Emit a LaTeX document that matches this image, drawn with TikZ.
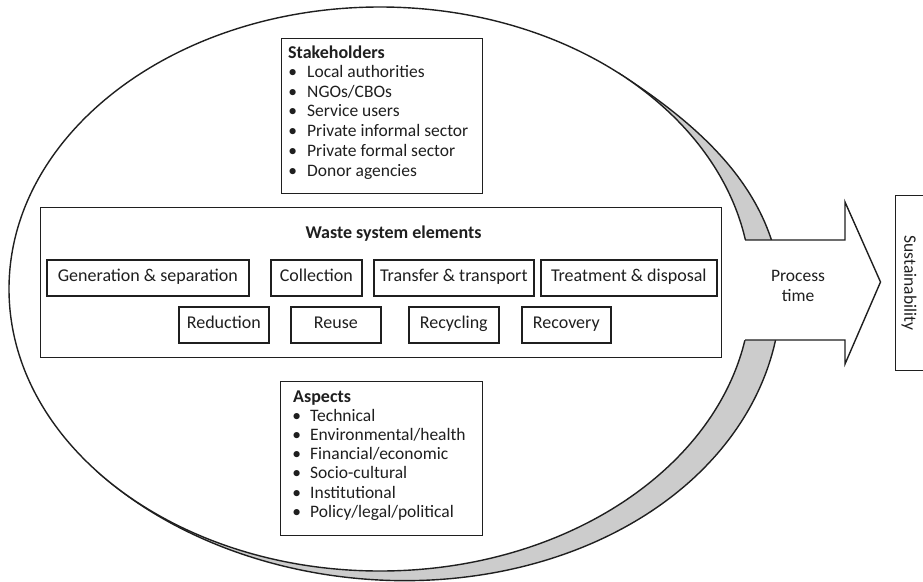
\documentclass[tikz,border=0pt]{standalone}
\usepackage{fontspec}
\setmainfont{Carlito}
\definecolor{ink}{gray}{0.12}
\definecolor{band}{gray}{0.80}
\begin{document}
\begin{tikzpicture}[x=1pt,y=-1pt,
  txt/.style={text=ink, font=\fontsize{17.5}{19.8}\selectfont},
  head/.style={text=ink, font=\fontsize{18}{20}\selectfont\bfseries},
  frame/.style={draw=ink, line width=1.2pt, inner sep=0pt, anchor=north west},
  elem/.style={frame, line width=1.6pt, text=ink,
    font=\fontsize{18}{20}\selectfont, text height=11pt, text depth=3.5pt},
  item/.style={txt, anchor=base west, inner sep=0pt},
  outline/.style={draw=ink, line width=1.4pt},
  declare function={
    % oval: centre (380,289), radii 371 x 282; t is the parametric angle
    ox(\t)=380+371*cos(\t);
    oy(\t)=289+282*sin(\t);
    nn(\t)=sqrt((0.76*cos(\t))^2+(sin(\t))^2);
    % width of the shaded rim, rising then fading around the right side
    rimA(\t)=30*(sin(90*(\t+50)/55))^2;
    rimB(\t)=30*(cos(90*(\t-5)/135))^2;
  },
]
\useasboundingbox (0,0) rectangle (923,581);

% shaded rim along the lower right of the oval
\fill[band]
  plot[domain=-50:5, samples=60, smooth]
    ({ox(\x)+rimA(\x)*0.76*cos(\x)/nn(\x)}, {oy(\x)+rimA(\x)*sin(\x)/nn(\x)})
  -- plot[domain=5:140, samples=120, smooth]
    ({ox(\x)+rimB(\x)*0.76*cos(\x)/nn(\x)}, {oy(\x)+rimB(\x)*sin(\x)/nn(\x)})
  -- plot[domain=140:-50, samples=100, smooth] ({ox(\x)}, {oy(\x)}) -- cycle;
\draw[outline]
  plot[domain=-50:5, samples=60, smooth]
    ({ox(\x)+rimA(\x)*0.76*cos(\x)/nn(\x)}, {oy(\x)+rimA(\x)*sin(\x)/nn(\x)})
  -- plot[domain=5:140, samples=120, smooth]
    ({ox(\x)+rimB(\x)*0.76*cos(\x)/nn(\x)}, {oy(\x)+rimB(\x)*sin(\x)/nn(\x)});

% the oval itself
\fill[white, outline] (380,289) ellipse [x radius=371pt, y radius=282pt];

% process-time arrow leaving the oval
\fill[white] (735,240) -- (845,240) -- (845,202) -- (880.5,282)
  -- (845,364) -- (845,340) -- (735,340) -- cycle;
\draw[outline, line join=miter] (745,240) -- (845,240) -- (845,202) -- (880.5,282)
  -- (845,364) -- (845,340) -- (745,340);
\node[txt, align=center] (proc) at (798,286) {Process\\time};

% sustainability box at the right edge
\node[frame, minimum width=40pt, minimum height=175pt] (sust) at (894.5,194.5) {};
\node[txt, rotate=-90] (sustlabel) at (909,283) {Sustainability};

% stakeholders
\node[frame, minimum width=201pt, minimum height=155pt] (stake) at (281,38) {};
\node[head, anchor=base west, inner sep=0pt] (s0) at (288,58) {Stakeholders};
\foreach \t [count=\i from 0] in {Local authorities, NGOs/CBOs, Service users,
    Private informal sector, Private formal sector, Donor agencies}
  \node[item] (s\i) at (307,77.3+19.8*\i)
    {\makebox[0pt][r]{\textbullet\hspace{10pt}}\t};

% waste system elements
\node[frame, minimum width=681pt, minimum height=150pt] (waste) at (40,207) {};
\node[head, anchor=base] (wtitle) at (393.5,238) {Waste system elements};

\node[elem, minimum width=202pt, minimum height=36pt] (gen) at (46,259) {Generation \& separation};
\node[elem, minimum width=91pt, minimum height=36pt] (coll) at (270,259) {Collection};
\node[elem, minimum width=160pt, minimum height=36pt] (trans) at (373,259) {Transfer \& transport};
\node[elem, minimum width=176pt, minimum height=36pt] (treat) at (540,259) {Treatment \& disposal};

\node[elem, minimum width=90pt, minimum height=36pt] (red) at (178,306) {Reduction};
\node[elem, minimum width=90pt, minimum height=36pt] (reuse) at (290,306) {Reuse};
\node[elem, minimum width=90pt, minimum height=36pt] (recyc) at (408,306) {Recycling};
\node[elem, minimum width=89pt, minimum height=36pt] (recov) at (521,306) {Recovery};

% aspects
\node[frame, minimum width=202pt, minimum height=154pt] (asp) at (280,381) {};
\node[head, anchor=base west, inner sep=0pt] (a0) at (293,402) {Aspects};
\foreach \t [count=\i from 0] in {Technical, Environmental/health, Financial/economic,
    Socio-cultural, Institutional, Policy/legal/political}
  \node[item] (a\i) at (310,421.2+19.2*\i)
    {\makebox[0pt][r]{\textbullet\hspace{9pt}}\t};
\end{tikzpicture}
\end{document}
